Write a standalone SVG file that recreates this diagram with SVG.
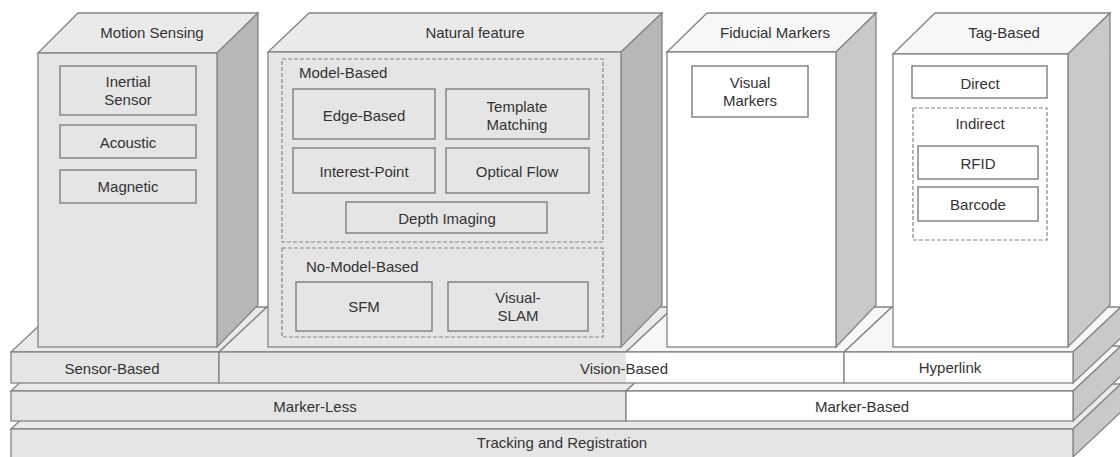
<svg xmlns="http://www.w3.org/2000/svg" width="1120" height="457" viewBox="0 0 1120 457">
<style>
text{font-family:"Liberation Sans",Arial,sans-serif;font-size:15px;fill:#333;text-anchor:middle;dominant-baseline:central}
.l{text-anchor:start}
.g{fill:#e5e5e5;stroke:#858585;stroke-width:1.3}
.w{fill:#ffffff;stroke:#858585;stroke-width:1.3}
.gt{fill:#eaeaea;stroke:#858585;stroke-width:1.3}
.wt{fill:#f7f7f7;stroke:#858585;stroke-width:1.3}
.sd{fill:#b7b7b7;stroke:#858585;stroke-width:1.3}
.sl{fill:#c9c9c9;stroke:#858585;stroke-width:1.3}
.ib{fill:#e5e5e5;stroke:#858585;stroke-width:1.5}
.iw{fill:#ffffff;stroke:#858585;stroke-width:1.5}
.d{fill:none;stroke:#858585;stroke-width:1.2;stroke-dasharray:4 2}
.nf{fill:none;stroke:#858585;stroke-width:1.3}
</style>

<!-- Platform: bottom layer -->
<g id="tracking-registration">
  <polygon class="gt" points="11,429 59,384 1121,384 1073,429"/>
  <polygon class="sl" points="1073,429 1121,384 1121,412 1073,457"/>
  <rect class="g" x="11" y="429" width="1062" height="30"/>
  <text x="562" y="442">Tracking and Registration</text>
</g>

<!-- Platform: middle layer -->
<g id="marker-less">
  <polygon class="gt" points="11,391 59,346 674,346 626,391"/>
  <rect class="g" x="11" y="391" width="615" height="30"/>
  <text x="315" y="406">Marker-Less</text>
</g>
<g id="marker-based">
  <polygon class="wt" points="626,391 674,346 1121,346 1073,391"/>
  <polygon class="sl" points="1073,391 1121,346 1121,376 1073,421"/>
  <rect class="w" x="626" y="391" width="447" height="30"/>
  <text x="862" y="406">Marker-Based</text>
</g>

<!-- Platform: top layer -->
<g id="sensor-based">
  <polygon class="gt" points="11,352 59,307 267,307 219,352"/>
  <rect class="g" x="11" y="352" width="208" height="31"/>
  <text x="112" y="368">Sensor-Based</text>
</g>
<g id="vision-based">
  <polygon class="gt" points="219,352 267,307 674,307 626,352"/>
  <polygon class="wt" points="626,352 674,307 892,307 844,352"/>
  <rect x="219" y="352" width="407" height="31" fill="#e5e5e5"/>
  <rect x="626" y="352" width="218" height="31" fill="#ffffff"/>
  <rect class="nf" x="219" y="352" width="625" height="31"/>
  <text x="624" y="368">Vision-Based</text>
</g>
<g id="hyperlink">
  <polygon class="wt" points="844,352 892,307 1121,307 1073,352"/>
  <polygon class="sl" points="1073,352 1121,307 1121,338 1073,383"/>
  <rect class="w" x="844" y="352" width="229" height="31"/>
  <text x="950" y="367">Hyperlink</text>
</g>

<!-- Motion Sensing -->
<g id="motion-sensing">
  <polygon class="gt" points="38,53 78,13 258,13 217,53"/>
  <polygon class="sd" points="217,53 258,13 258,305 217,347"/>
  <rect class="g" x="38" y="53" width="179" height="294"/>
  <text x="152" y="32">Motion Sensing</text>
  <g id="inertial-sensor">
    <rect class="ib" x="60" y="66" width="136" height="49"/>
    <text x="128" y="81">Inertial</text>
    <text x="128" y="99">Sensor</text>
  </g>
  <g id="acoustic">
    <rect class="ib" x="60" y="125" width="136" height="33"/>
    <text x="128" y="142">Acoustic</text>
  </g>
  <g id="magnetic">
    <rect class="ib" x="60" y="170" width="136" height="33"/>
    <text x="128" y="186">Magnetic</text>
  </g>
</g>

<!-- Natural feature -->
<g id="natural-feature">
  <polygon class="gt" points="268,52 309,13 662,13 621,52"/>
  <polygon class="sd" points="621,52 662,13 662,305 621,347"/>
  <rect class="g" x="268" y="52" width="353" height="295"/>
  <text x="475" y="32">Natural feature</text>
  <g id="model-based">
    <rect class="d" x="282" y="59" width="321" height="183"/>
    <text class="l" x="299" y="72">Model-Based</text>
    <g id="edge-based">
      <rect class="ib" x="293" y="89" width="142" height="50"/>
      <text x="364" y="115">Edge-Based</text>
    </g>
    <g id="template-matching">
      <rect class="ib" x="446" y="89" width="143" height="50"/>
      <text x="517" y="106">Template</text>
      <text x="517" y="124">Matching</text>
    </g>
    <g id="interest-point">
      <rect class="ib" x="293" y="148" width="142" height="45"/>
      <text x="364" y="171">Interest-Point</text>
    </g>
    <g id="optical-flow">
      <rect class="ib" x="446" y="148" width="143" height="45"/>
      <text x="517" y="171">Optical Flow</text>
    </g>
    <g id="depth-imaging">
      <rect class="ib" x="346" y="202" width="201" height="31"/>
      <text x="447" y="218">Depth Imaging</text>
    </g>
  </g>
  <g id="no-model-based">
    <rect class="d" x="282" y="248" width="321" height="89"/>
    <text class="l" x="306" y="266">No-Model-Based</text>
    <g id="sfm">
      <rect class="ib" x="296" y="282" width="136" height="49"/>
      <text x="364" y="306">SFM</text>
    </g>
    <g id="visual-slam">
      <rect class="ib" x="448" y="282" width="140" height="49"/>
      <text x="518" y="297">Visual-</text>
      <text x="518" y="315">SLAM</text>
    </g>
  </g>
</g>

<!-- Fiducial Markers -->
<g id="fiducial-markers">
  <polygon class="wt" points="667,52 707,13 876,13 836,52"/>
  <polygon class="sl" points="836,52 876,13 876,305 836,347"/>
  <rect class="w" x="667" y="52" width="169" height="295"/>
  <text x="775" y="32">Fiducial Markers</text>
  <g id="visual-markers">
    <rect class="iw" x="692" y="66" width="116" height="51"/>
    <text x="750" y="82">Visual</text>
    <text x="750" y="100">Markers</text>
  </g>
</g>

<!-- Tag-Based -->
<g id="tag-based">
  <polygon class="wt" points="893,54 935,13 1110,13 1068,54"/>
  <polygon class="sl" points="1068,54 1110,13 1110,305 1068,347"/>
  <rect class="w" x="893" y="54" width="175" height="293"/>
  <text x="1004" y="32">Tag-Based</text>
  <g id="direct">
    <rect class="iw" x="912" y="66" width="135" height="32"/>
    <text x="980" y="83">Direct</text>
  </g>
  <g id="indirect">
    <rect class="d" x="913" y="108" width="134" height="132"/>
    <text x="980" y="123">Indirect</text>
    <g id="rfid">
      <rect class="iw" x="918" y="146" width="120" height="33"/>
      <text x="978" y="163">RFID</text>
    </g>
    <g id="barcode">
      <rect class="iw" x="918" y="187" width="120" height="34"/>
      <text x="978" y="204">Barcode</text>
    </g>
  </g>
</g>

<g id="connectors"/>
</svg>
